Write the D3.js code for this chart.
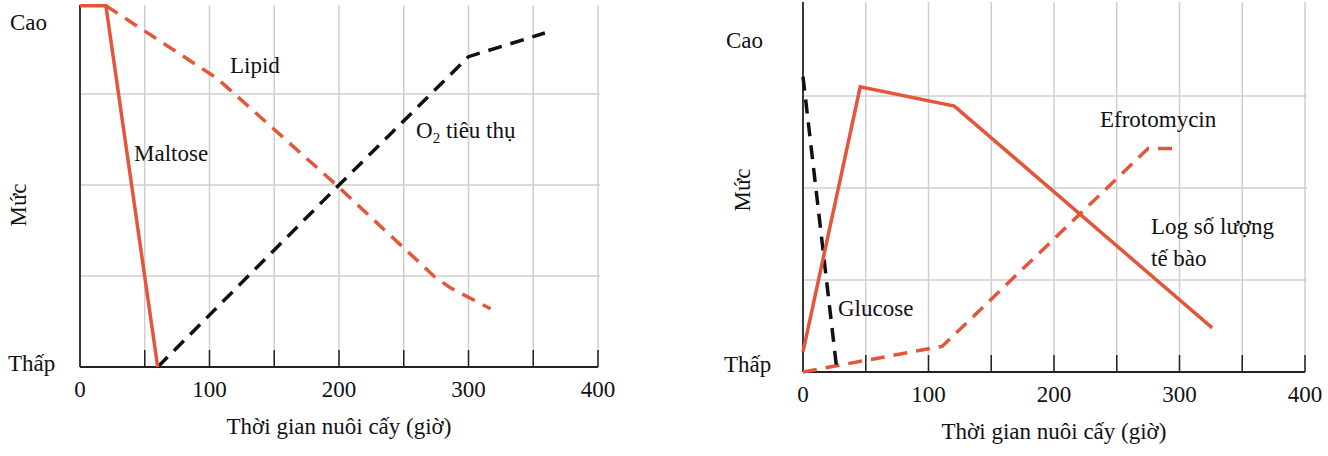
<!DOCTYPE html>
<html><head><meta charset="utf-8">
<script src="https://cdn.jsdelivr.net/npm/d3@7"></script>
<style>body{margin:0;background:#fff}text{font-family:"Liberation Serif","Times New Roman",serif;fill:#111}</style>
</head><body><div id="container"></div>
<script>
/* DATA */
const xTicks = [0, 100, 200, 300, 400];
const maltose = [[0, 3.97], [20, 3.97], [60, 0]];
const lipid = [[20, 3.97], [106, 3.17], [198, 2.0], [274, 0.99], [286, 0.87], [317, 0.64]];
const oxygen = [[60, 0], [200, 2.0], [300, 3.41], [359, 3.67]];
const glucose = [[0, 3.21], [26.5, 0.08]];
const cells = [[0, 0.22], [45.6, 3.1], [120.6, 2.89], [326, 0.48]];
const efrotomycin = [[0, 0], [111, 0.28], [275, 2.43], [301, 2.43]];

const RED = "#e4553a";
const FS = 23;
const svg = d3.select("#container").append("svg").attr("width", 1328).attr("height", 456);

function panel(x0, x1, yBottom, yTop, axisTop) {
  const x = d3.scaleLinear().domain([0, 400]).range([x0, x1]);
  const y = d3.scaleLinear().domain([0, 4]).range([yBottom, yTop]);
  const g = svg.append("g");
  // grid
  g.selectAll("line.v").data(d3.range(50, 401, 50)).join("line")
    .attr("x1", d => x(d)).attr("x2", d => x(d)).attr("y1", axisTop).attr("y2", yBottom)
    .attr("stroke", "#cfcfcf").attr("stroke-width", 1.5);
  g.selectAll("line.h").data([1, 2, 3]).join("line")
    .attr("x1", x0).attr("x2", x1 + 2).attr("y1", d => y(d)).attr("y2", d => y(d))
    .attr("stroke", "#cfcfcf").attr("stroke-width", 1.5);
  // ticks (pointing up)
  g.selectAll("line.t").data(d3.range(50, 401, 50)).join("line")
    .attr("x1", d => x(d)).attr("x2", d => x(d)).attr("y1", yBottom - 17).attr("y2", yBottom)
    .attr("stroke", "#222").attr("stroke-width", 1.5);
  // axes
  g.append("line").attr("x1", x0).attr("x2", x0).attr("y1", axisTop).attr("y2", yBottom)
    .attr("stroke", "#222").attr("stroke-width", 1.8);
  g.append("line").attr("x1", x0).attr("x2", x1).attr("y1", yBottom).attr("y2", yBottom)
    .attr("stroke", "#222").attr("stroke-width", 1.8);
  g.selectAll("text.tick").data(xTicks).join("text")
    .attr("x", d => x(d)).attr("y", yBottom + 30).attr("text-anchor", "middle")
    .attr("font-size", FS).text(d => d);
  g.append("text").attr("x", (x0 + x1) / 2).attr("y", yBottom + 67).attr("text-anchor", "middle")
    .attr("font-size", FS).text("Thời gian nuôi cấy (giờ)");
  return { x, y, g };
}

function line(p, data, color, dashed) {
  p.g.append("path").datum(data)
    .attr("d", d3.line().x(d => p.x(d[0])).y(d => p.y(d[1])))
    .attr("fill", "none").attr("stroke", color).attr("stroke-width", 3.5)
    .attr("stroke-dasharray", dashed ? "14,9" : null);
}

function label(p, px, py, t) {
  p.g.append("text").attr("x", px).attr("y", py).attr("font-size", FS).text(t);
}

// LEFT PANEL
const L = panel(80, 598, 367, 3, 5);
line(L, lipid, RED, true);
line(L, oxygen, "#111", true);
line(L, maltose, RED, false);
label(L, 10, 30, "Cao");
label(L, 8, 371, "Thấp");
L.g.append("text").attr("transform", "translate(26,205) rotate(-90)").attr("text-anchor", "middle")
  .attr("font-size", FS).text("Mức");
label(L, 230, 73, "Lipid");
label(L, 134, 161, "Maltose");
const o2 = L.g.append("text").attr("x", 416).attr("y", 138).attr("font-size", FS);
o2.append("tspan").text("O");
o2.append("tspan").attr("font-size", 15).attr("dy", 5).text("2");
o2.append("tspan").attr("dy", -5).text(" tiêu thụ");

// RIGHT PANEL
const R = panel(803, 1305, 372, 4, 2);
line(R, efrotomycin, RED, true);
line(R, glucose, "#111", true);
line(R, cells, RED, false);
label(R, 726, 48, "Cao");
label(R, 724, 372, "Thấp");
R.g.append("text").attr("transform", "translate(750,190) rotate(-90)").attr("text-anchor", "middle")
  .attr("font-size", FS).text("Mức");
label(R, 1100, 127, "Efrotomycin");
label(R, 1151, 234, "Log số lượng");
label(R, 1151, 266, "tế bào");
label(R, 838, 316, "Glucose");
</script></body></html>
